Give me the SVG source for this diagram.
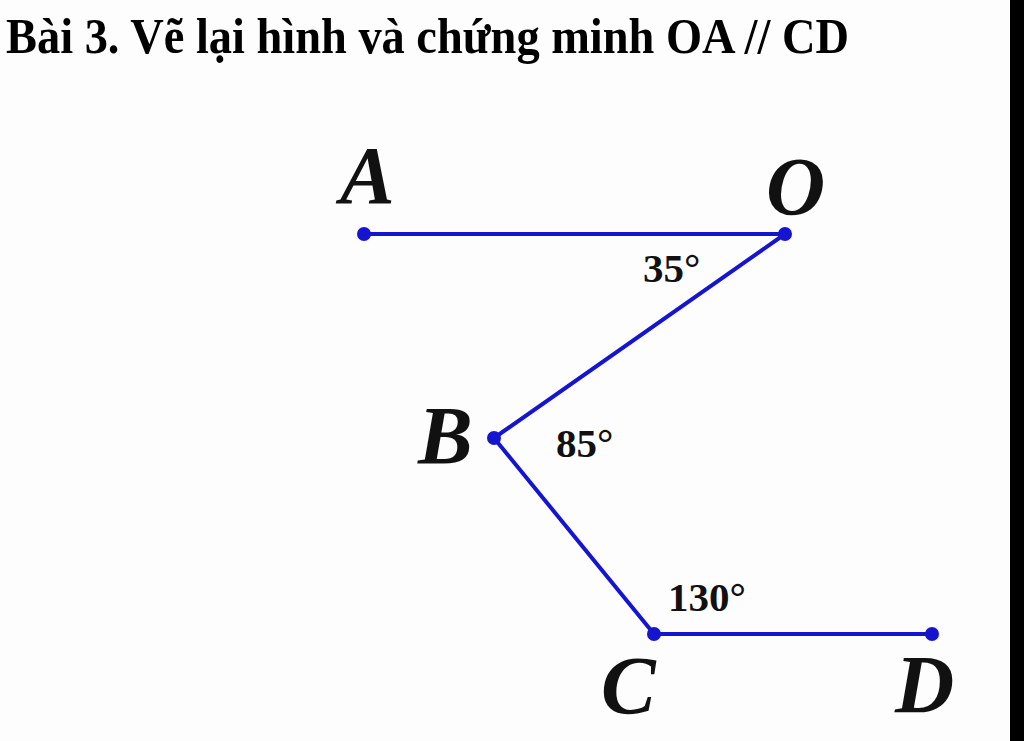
<svg xmlns="http://www.w3.org/2000/svg" width="1024" height="741" viewBox="0 0 1024 741">
<style>
.title{font-family:"Liberation Serif","Times New Roman",serif;font-weight:bold;font-size:51px;fill:#000}
.pt{font-family:"Liberation Serif","Times New Roman",serif;font-weight:bold;font-style:italic;font-size:82px;fill:#111}
.ang{font-family:"Liberation Serif","Times New Roman",serif;font-weight:bold;font-size:41px;fill:#111}
.seg{stroke:#1515d0;stroke-width:4;stroke-linecap:round;fill:none}
.dot{fill:#1515d0}
</style>
<rect width="1024" height="741" fill="#fdfdfd"/>
<rect x="1010" y="0" width="14" height="741" fill="#000"/>
<text class="title" x="6" y="53" textLength="843" lengthAdjust="spacingAndGlyphs">Bài 3. Vẽ lại hình và chứng minh OA // CD</text>
<g id="connectors">
<line class="seg" x1="364" y1="234" x2="785" y2="234"/>
<line class="seg" x1="785" y1="234" x2="494" y2="438"/>
<line class="seg" x1="494" y1="438" x2="654" y2="634"/>
<line class="seg" x1="654" y1="634" x2="932" y2="634"/>
</g>
<g id="A"><circle class="dot" cx="364" cy="234" r="7"/><text class="pt" x="340" y="203">A</text></g>
<g id="O"><circle class="dot" cx="785" cy="234" r="7"/><text class="pt" x="766" y="214">O</text></g>
<g id="B"><circle class="dot" cx="494" cy="438" r="7"/><text class="pt" x="418" y="463">B</text></g>
<g id="C"><circle class="dot" cx="654" cy="634" r="7"/><text class="pt" x="601" y="713">C</text></g>
<g id="D"><circle class="dot" cx="932" cy="634" r="7"/><text class="pt" x="895" y="712">D</text></g>
<g id="angles">
<text class="ang" x="643" y="282">35°</text>
<text class="ang" x="556" y="457">85°</text>
<text class="ang" x="668" y="611">130°</text>
</g>
</svg>
